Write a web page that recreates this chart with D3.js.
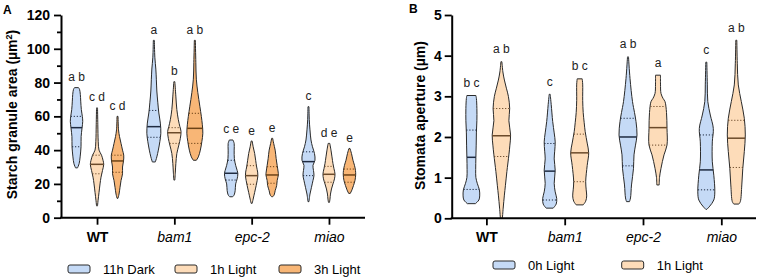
<!DOCTYPE html>
<html><head><meta charset="utf-8">
<script src="https://cdn.jsdelivr.net/npm/d3@7"></script>
<style>body{margin:0;background:#fff} svg{display:block;font-family:Arial,"Liberation Sans",sans-serif}</style>
</head><body><svg id="c" width="760" height="279"></svg>
<script>
// ---------- DATA ----------
const groups = ["WT", "bam1", "epc-2", "miao"];
const seriesA = ["11h Dark", "1h Light", "3h Light"];
const seriesB = ["0h Light", "1h Light"];
const yTicksA = [0, 20, 40, 60, 80, 100, 120];
const yMinorA = [10, 30, 50, 70, 90, 110];
const yTicksB = [0, 1, 2, 3, 4, 5];

// Panel A: density profiles [value, relative density], ordered by group
const darkA_shape = [
  [[77,2],[76,3],[73,3.8],[69,4.2],[64,4.8],[60,5.8],[57,6.2],[53,5.5],[48,4.6],[42,4.5],[36,3.6],[32,2.6],[29.5,1]],
  [[105,0.5],[95,1],[88,2],[82,2.5],[75,3],[68,4],[62,5],[56,6.5],[50,7],[45,6],[40,4.5],[36,3],[33,1.5]],
  [[46,1.8],[44,3],[40,3],[35,3.2],[31,4.5],[28,6],[26,6.7],[23,6],[20,4.5],[16,4],[13.5,3],[12.4,1.5]],
  [[65.7,0.5],[58,0.8],[52,1.5],[46,2.5],[42,4],[38,6],[34,6.5],[31,4.5],[28,5],[25,5.5],[22,4.5],[18,3],[14,1.5],[9.5,0.5]]
];
const darkA_median = [53.3, 53.9, 26.3, 33.2];
const darkA_q1 = [42, 47.6, 22.3, 24.9];
const darkA_q3 = [60, 63.5, 34, 39];
const darkA_letters = ["a b", "a", "c e", "c"];

const light1A_shape = [
  [[65,0.5],[55,0.8],[45,1.2],[40,2],[37,4.5],[34,6],[31.6,6.7],[28,5.5],[24,4],[20,3],[15,2],[10,1],[7,0.5]],
  [[80.5,0.5],[72,1.5],[64,2.5],[58,4],[54,5.5],[51,6.7],[47,6],[43,4.5],[38,2.5],[32,1.5],[27,1],[22.3,0.5]],
  [[45.4,0.5],[42,1.5],[38,3],[34,4],[30,5],[27,6],[24.9,6.2],[22,5.5],[19,4.5],[15,3],[11,1.5],[8.5,0.5]],
  [[44,0.8],[40,2],[36,3],[32,4],[29,5],[26,6],[23,5.5],[20,4],[17,2.5],[14,1.5],[11,1],[9.1,0.5]]
];
const light1A_median = [31.6, 50.3, 24.9, 25.7];
const light1A_q1 = [26, 44, 19.8, 21];
const light1A_q3 = [37, 53.3, 30.8, 30.4];
const light1A_letters = ["c d", "b", "e", "d e"];

const light3A_shape = [
  [[60,0.5],[52,1],[48,2],[44,3.5],[40,5],[37,6.2],[33.6,6],[30,5],[26,5],[22,3.5],[18,2.5],[14,1.5],[11.5,0.5]],
  [[105,0.5],[92,1],[82,1.5],[74,3],[66,5],[60,6.5],[55,7.5],[50,8],[45,7],[40,5.5],[36,3.5],[34,1.5]],
  [[47,0.5],[44,1.5],[40,3],[35,4],[31,5],[27,6],[25.3,6.2],[22,5],[19,4.5],[16,3],[13.5,2],[12.4,0.5]],
  [[41,0.5],[38,2],[34,3.5],[31,5],[28,6],[25.3,6.2],[22,5.5],[19,4],[16.5,2.5],[14.4,0.8]]
];
const light3A_median = [33.6, 52.9, 25.3, 25.3];
const light3A_q1 = [26.9, 44, 20.4, 21];
const light3A_q3 = [37, 61.8, 30.2, 28.8];
const light3A_letters = ["c d", "a b", "e", "e"];

// Panel B
const h0B_shape = [
  [[3.02,4.5],[2.95,5],[2.7,5.5],[2.4,5.5],[2.1,5],[1.8,4.8],[1.5,4.5],[1.2,4.3],[1.0,4.5],[0.85,6],[0.7,8],[0.55,8.3],[0.45,7.5],[0.36,4]],
  [[3.05,0.5],[2.8,1.5],[2.38,3],[2.1,4.5],[1.88,5.5],[1.65,5],[1.46,4.5],[1.18,5.5],[0.86,4.5],[0.65,5.5],[0.49,7],[0.35,6.5],[0.25,3.5]],
  [[3.97,0.5],[3.44,2],[2.87,4.5],[2.6,6.5],[2.38,8],[2.05,9],[1.8,7.5],[1.56,6],[1.23,5.5],[0.82,3.5],[0.5,2.5],[0.41,1.5]],
  [[3.84,0.5],[3.3,1],[2.87,1.5],[2.54,4],[2.21,7],[1.88,6],[1.39,6],[1.06,7.5],[0.65,8.5],[0.45,7.5],[0.3,3.5],[0.22,0.5]]
];
const h0B_median = [1.5, 1.16, 2.0, 1.19];
const h0B_q1 = [0.71, 0.45, 1.29, 0.7];
const h0B_q3 = [2.17, 1.84, 2.46, 2.05];
const h0B_letters = ["b c", "c", "a b", "c"];

const h1B_shape = [
  [[3.85,0.5],[3.6,1.5],[3.4,3],[3.2,5],[3.0,7],[2.7,8.3],[2.4,7.5],[2.05,9.2],[1.8,8.5],[1.56,7.5],[1.15,5.5],[0.8,4],[0.57,3],[0.25,1.8],[0,1]],
  [[3.43,2.5],[3.3,3],[2.9,3],[2.6,3.5],[2.35,4.5],[2.13,5.5],[1.85,7.5],[1.61,9],[1.3,7.5],[0.9,6],[0.7,6.5],[0.55,7],[0.42,6],[0.33,3.5]],
  [[3.52,2.5],[3.3,2.5],[3.07,3],[2.95,5],[2.87,7],[2.6,8.5],[2.21,9],[1.8,9],[1.56,6],[1.23,3],[1.0,1.5],[0.82,1.2]],
  [[4.38,0.5],[3.8,1],[3.28,2],[2.87,5],[2.46,8],[2.05,9],[1.64,8],[1.23,6.5],[0.82,5.5],[0.41,4],[0.35,2.5]]
];
const h1B_median = [2.03, 1.61, 2.23, 1.97];
const h1B_q1 = [1.52, 0.9, 1.8, 1.25];
const h1B_q3 = [2.7, 2.07, 2.75, 2.41];
const h1B_letters = ["a b", "b c", "a", "a b"];

// ---------- STYLE ----------
const fills = {"11h Dark": "#c5daf6", "0h Light": "#c5daf6", "1h Light": "#fddcb9", "3h Light": "#f8b676"};
const lineCol = {"11h Dark": "#1e2a40", "0h Light": "#1e2a40", "1h Light": "#6b4a2a", "3h Light": "#6b4216"};

const tablesA = [
  {name: seriesA[0], shape: darkA_shape, med: darkA_median, q1: darkA_q1, q3: darkA_q3, letters: darkA_letters},
  {name: seriesA[1], shape: light1A_shape, med: light1A_median, q1: light1A_q1, q3: light1A_q3, letters: light1A_letters},
  {name: seriesA[2], shape: light3A_shape, med: light3A_median, q1: light3A_q1, q3: light3A_q3, letters: light3A_letters}
];
const tablesB = [
  {name: seriesB[0], shape: h0B_shape, med: h0B_median, q1: h0B_q1, q3: h0B_q3, letters: h0B_letters},
  {name: seriesB[1], shape: h1B_shape, med: h1B_median, q1: h1B_q1, q3: h1B_q3, letters: h1B_letters}
];

const svg = d3.select("#c");
const FONT = 'Arial,"Liberation Sans",sans-serif';

function widthAt(profile, v) {
  for (let i = 0; i < profile.length - 1; i++) {
    const a = profile[i], b = profile[i + 1];
    if (v <= a[0] && v >= b[0]) {
      const t = (a[0] - v) / (a[0] - b[0]);
      return a[1] + t * (b[1] - a[1]);
    }
  }
  return 0;
}

function panel(cfg) {
  const g = svg.append("g");
  const y = d3.scaleLinear().domain(cfg.yDomain).range([cfg.yBottom, cfg.yTop]);
  const x = d3.scalePoint().domain(groups).range([cfg.axisX, cfg.axisEnd]).padding(cfg.pad);
  const off = d3.scalePoint().domain(cfg.series).range([-cfg.offset, cfg.offset]);
  const w = d3.scaleLinear().domain([0, 10]).range([0, 10]);

  // violins
  cfg.tables.forEach(s => {
    groups.forEach((grp, i) => {
      const cx = x(grp) + off(s.name);
      const prof = s.shape[i];
      const area = d3.area()
        .y(d => y(d[0]))
        .x0(d => cx - w(d[1]))
        .x1(d => cx + w(d[1]))
        .curve(d3.curveCatmullRom.alpha(0.5));
      g.append("path").attr("d", area(prof))
        .attr("fill", fills[s.name]).attr("stroke", "#2a2a2a").attr("stroke-width", 1);
      const lines = [[s.q1[i], true], [s.q3[i], true], [s.med[i], false]];
      lines.forEach(([v, dotted]) => {
        const hw = w(widthAt(prof, v));
        g.append("line")
          .attr("x1", cx - hw).attr("x2", cx + hw)
          .attr("y1", y(v)).attr("y2", y(v))
          .attr("stroke", lineCol[s.name])
          .attr("stroke-width", dotted ? 1 : 1.5)
          .attr("stroke-dasharray", dotted ? "1.2,1.8" : null);
      });
      g.append("text")
        .attr("x", cx).attr("y", y(prof[0][0]) - cfg.letterGap)
        .attr("text-anchor", "middle").attr("font-size", 12).attr("fill", "#222")
        .attr("font-family", FONT)
        .text(s.letters[i]);
    });
  });

  // y axis
  const ya = d3.axisLeft(y).tickValues(cfg.yTicks).tickFormat(d3.format("d"))
    .tickSize(7).tickSizeOuter(0).tickPadding(cfg.yPad);
  const yg = g.append("g").attr("transform", `translate(${cfg.axisX},0)`).call(ya);
  yg.select(".domain").attr("stroke", "#000").attr("stroke-width", 2);
  yg.selectAll(".tick line").attr("stroke", "#000").attr("stroke-width", 1.8);
  yg.selectAll("text").attr("font-size", 14).attr("font-weight", "bold").attr("font-family", FONT).attr("fill", "#000");
  if (cfg.yMinor) {
    const ym = d3.axisLeft(y).tickValues(cfg.yMinor).tickSize(4).tickSizeOuter(0).tickFormat("");
    const mg = g.append("g").attr("transform", `translate(${cfg.axisX},0)`).call(ym);
    mg.select(".domain").remove();
    mg.selectAll(".tick line").attr("stroke", "#000").attr("stroke-width", 1.8);
  }

  // x axis
  const xa = d3.axisBottom(x).tickSize(7).tickSizeOuter(0).tickPadding(7);
  const xg = g.append("g").attr("transform", `translate(0,${cfg.yBottom})`).call(xa);
  xg.select(".domain").attr("stroke", "#000").attr("stroke-width", 2)
    .attr("d", `M${cfg.axisX - 1},0H${cfg.axisEnd}`);
  xg.selectAll(".tick line").attr("stroke", "#000").attr("stroke-width", 1.8);
  xg.selectAll("text").attr("font-size", 14).attr("font-family", FONT).attr("fill", "#000")
    .attr("font-weight", d => d === "WT" ? "bold" : "normal")
    .attr("font-style", d => d === "WT" ? "normal" : "italic");

  // y title
  g.append("text")
    .attr("transform", `translate(${cfg.titleX},${cfg.titleY}) rotate(-90)`)
    .attr("text-anchor", "middle").attr("font-size", 14).attr("font-weight", "bold")
    .attr("font-family", FONT).attr("fill", "#000")
    .html(cfg.title);

  // panel letter
  g.append("text").attr("x", cfg.letterX).attr("y", cfg.letterY)
    .attr("font-size", 12).attr("font-weight", "bold").attr("font-family", FONT).text(cfg.panelLetter);

  // legend
  cfg.series.forEach((s, i) => {
    const lx = cfg.legendX[i];
    g.append("rect").attr("x", lx).attr("y", cfg.legendY - 4).attr("width", 22).attr("height", 8)
      .attr("rx", 2).attr("fill", fills[s]).attr("stroke", "#2a2a2a").attr("stroke-width", 1);
    g.append("text").attr("x", lx + 35).attr("y", cfg.legendY + 4.7)
      .attr("font-size", 13).attr("font-family", FONT).attr("fill", "#000").text(s);
  });
}

panel({
  series: seriesA, tables: tablesA,
  yDomain: [0, 120], yBottom: 217.7, yTop: 15, yTicks: yTicksA, yMinor: yMinorA, yPad: 4,
  axisX: 61, axisEnd: 365, pad: 0.466, offset: 20.5, letterGap: 6.5,
  title: 'Starch granule area (µm<tspan baseline-shift="super" font-size="9">2</tspan>)',
  titleX: 17, titleY: 114.5, panelLetter: "A", letterX: 3, letterY: 13.5,
  legendX: [68, 175, 279], legendY: 269
});

panel({
  series: seriesB, tables: tablesB,
  yDomain: [0, 5], yBottom: 218.3, yTop: 15, yTicks: yTicksB, yMinor: null, yPad: 3,
  axisX: 451.7, axisEnd: 756, pad: 0.443, offset: 15, letterGap: 8.5,
  title: 'Stomata aperture (µm)',
  titleX: 425, titleY: 115.5, panelLetter: "B", letterX: 409, letterY: 12.7,
  legendX: [493, 621.7], legendY: 265
});
</script></body></html>
